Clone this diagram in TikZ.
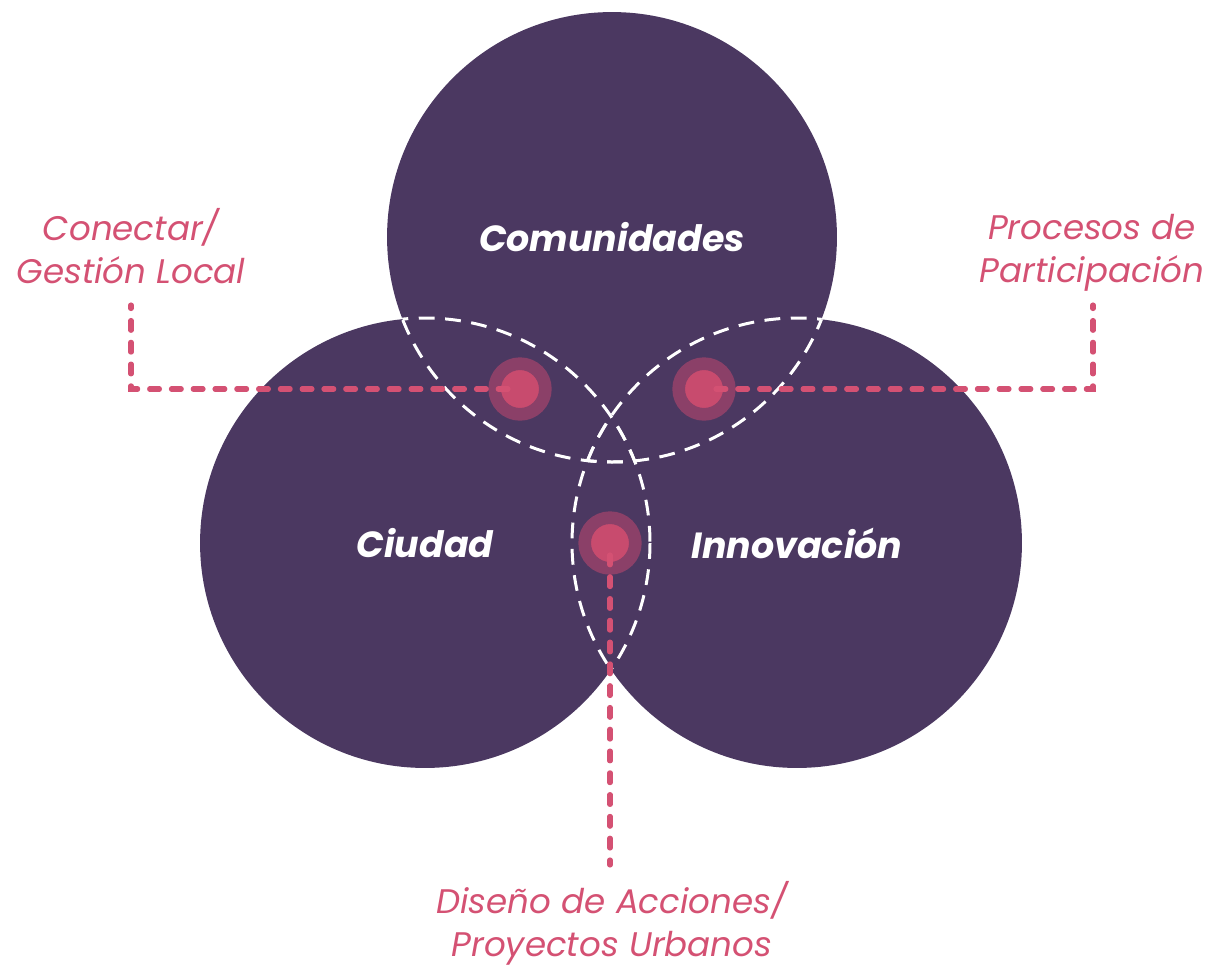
\documentclass[tikz,border=0pt]{standalone}
\usepackage{fontspec}
\setmainfont{Poppins}
\usetikzlibrary{positioning}
\definecolor{plum}{RGB}{75,56,97}
\definecolor{rose}{RGB}{212,81,115}
\definecolor{roseRing}{RGB}{139,64,104}
\definecolor{roseDot}{RGB}{200,75,110}

\begin{document}
\begin{tikzpicture}[x=0.02cm,y=-0.02cm]
    \tikzstyle{every node}+=[inner sep=0pt, outer sep=0pt]
    \tikzstyle{area}=[circle, fill=plum, minimum size=9cm, text=white, font=\fontsize{20.7}{24}\selectfont\bfseries\itshape]
    \tikzstyle{lens}=[white, line width=1.7pt, dash pattern=on 9pt off 6pt]
    \tikzstyle{spot}=[circle, fill=roseDot, draw=roseRing, line width=7.2pt, minimum size=1.014cm]
    \tikzstyle{link}=[rose, line width=2.9pt, line cap=round, dash pattern=on 5.6pt off 6.8pt, shorten <=6.8pt]
    \tikzstyle{note}=[text=rose, align=center, anchor=base, font=\fontsize{19.4}{24.4}\selectfont\itshape]
    \useasboundingbox (0,0) rectangle (1213,964);
    % the three circles
    \node[area] (com) at (612,237) {Comunidades};
    \node[area] (ciu) at (425,543) {Ciudad};
    \node[area] (inn) at (797,543) {Innovación};
    % dashed overlaps
    \begin{scope}
        \clip (com.center) circle (225);
        \draw[lens] (ciu.center) circle (225);
        \draw[lens] (inn.center) circle (225);
    \end{scope}
    \begin{scope}
        \clip (ciu.center) circle (225);
        \draw[lens] (com.center) circle (225);
        \draw[lens] (inn.center) circle (225);
    \end{scope}
    \begin{scope}
        \clip (inn.center) circle (225);
        \draw[lens] (com.center) circle (225);
        \draw[lens] (ciu.center) circle (225);
    \end{scope}
    % spots
    \node[spot] (cg) at (520,389) {};
    \node[spot] (pp) at (704,389) {};
    \node[spot] (da) at (610,543) {};
    % labels
    \node[note] (cg-txt) at (131,283) {Conectar/\\Gestión Local};
    \node[note] (pp-txt) at (1092,282) {Procesos de\\Participación};
    \node[note] (da-txt) at (612,956) {Diseño de Acciones/\\Proyectos Urbanos};
    % links
    \coordinate (cg-bend) at (131,389);
    \coordinate (cg-end) at (131,305);
    \coordinate (pp-bend) at (1093,389);
    \coordinate (pp-end) at (1093,305);
    \coordinate (da-end) at (610,865);
    \draw[link] (cg.center) -- (cg-bend) -- (cg-end);
    \draw[link] (pp.center) -- (pp-bend) -- (pp-end);
    \draw[link] (da.center) -- (da-end);
\end{tikzpicture}
\end{document}
